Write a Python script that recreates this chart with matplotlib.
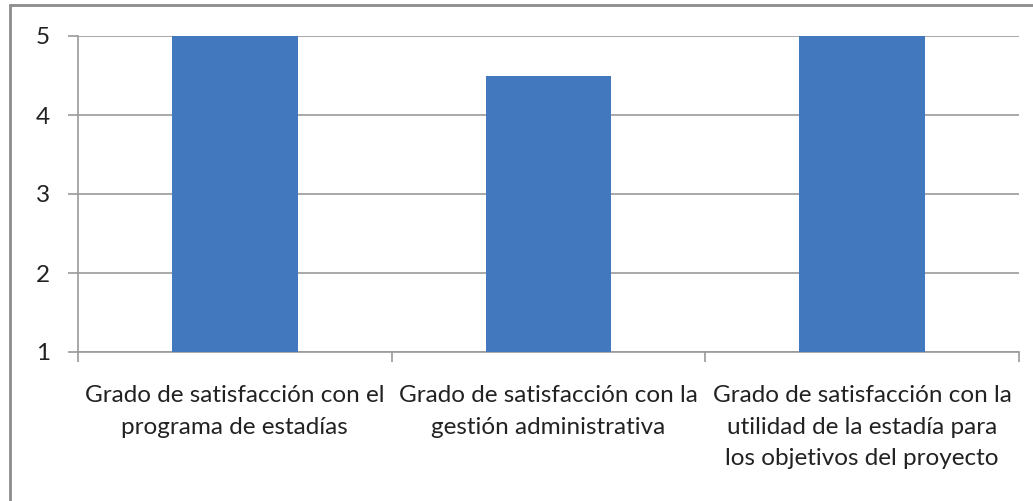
import matplotlib.pyplot as plt
from matplotlib.patches import Rectangle

categories = [
    "Grado de satisfacción con el\nprograma de estadías",
    "Grado de satisfacción con la\ngestión administrativa",
    "Grado de satisfacción con la\nutilidad de la estadía para\nlos objetivos del proyecto",
]
values = [5, 4.5, 5]
y_ticks = [1, 2, 3, 4, 5]

W, H = 1033, 501
plt.rcParams['font.family'] = ['Lato', 'DejaVu Sans']
fig = plt.figure(figsize=(W / 100, H / 100), dpi=100)

# outer chart border (only left and top edges visible)
fig.patches.append(Rectangle((10 / W, -0.1), 1.2, 1 - 5 / H + 0.1, transform=fig.transFigure,
                             fill=False, edgecolor='#8c8c8c', linewidth=2))

ax = fig.add_axes([78 / W, 1 - 352 / H, (1019 - 78) / W, (352 - 36) / H])
x = range(len(categories))
ax.bar(x, [v - 1 for v in values], bottom=1, width=0.4, color='#4279BE', zorder=3)

ax.set_xlim(-0.5, len(categories) - 0.5)
ax.set_ylim(1, 5)
ax.set_yticks(y_ticks)
ax.set_yticklabels([str(t) for t in y_ticks], fontsize=17.5, color='#222222')
ax.yaxis.grid(True, color='#9a9a9a', linewidth=1.2, zorder=0)

for s in ['top', 'right']:
    ax.spines[s].set_visible(False)
for s in ['left', 'bottom']:
    ax.spines[s].set_color('#9a9a9a')
    ax.spines[s].set_linewidth(1.2)

ax.tick_params(axis='y', length=7, color='#9a9a9a', width=1.2, pad=13)
ax.set_xticks([-0.5, 0.5, 1.5, 2.5])
ax.set_xticklabels([])
ax.tick_params(axis='x', direction='out', length=7, color='#9a9a9a', width=1.2)

for i, lab in enumerate(categories):
    ax.annotate(lab, xy=(i, 1), xycoords='data', xytext=(0, -24), textcoords='offset points',
                ha='center', va='top', fontsize=17.5, color='#222222', linespacing=1.62)

fig.savefig("out.png", dpi=100)
